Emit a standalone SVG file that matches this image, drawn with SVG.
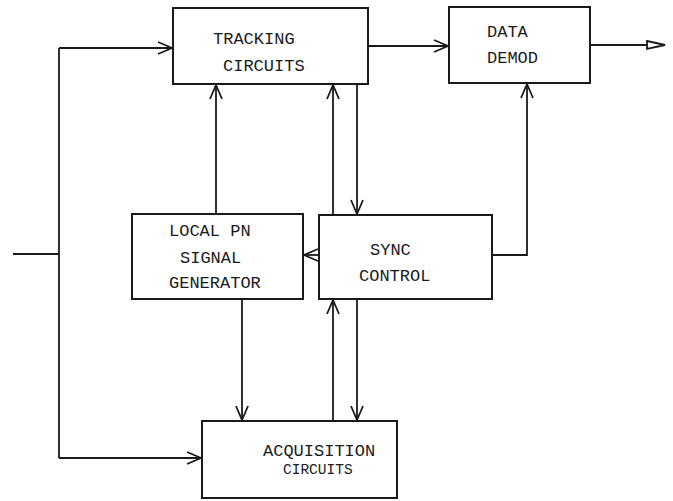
<svg xmlns="http://www.w3.org/2000/svg" width="673" height="501" viewBox="0 0 673 501">
  <style>
    .box { fill: none; stroke: #1a1a1a; stroke-width: 2; }
    .wire { fill: none; stroke: #1a1a1a; stroke-width: 1.8; }
    .lbl { font-family: "Liberation Mono", "Courier New", monospace; font-size: 17px; fill: #1a1a1a; }
    .sm { font-size: 14.5px; }
  </style>
  <defs>
    <marker id="vee" markerWidth="18" markerHeight="16" refX="15" refY="7" orient="auto" markerUnits="userSpaceOnUse">
      <path d="M1,1 L15,7 L1,13" fill="none" stroke="#1a1a1a" stroke-width="1.8"/>
    </marker>
    <marker id="tri" markerWidth="22" markerHeight="14" refX="19" refY="6" orient="auto" markerUnits="userSpaceOnUse">
      <path d="M1,2 L19,6 L1,10 Z" fill="#fff" stroke="#1a1a1a" stroke-width="1.8"/>
    </marker>
  </defs>

  <g id="tracking">
    <rect class="box" x="173" y="8" width="195" height="76" stroke-width="2.4"/>
    <text class="lbl" x="213" y="44">TRACKING</text>
    <text class="lbl" x="223" y="71">CIRCUITS</text>
  </g>

  <g id="demod">
    <rect class="box" x="449" y="7" width="141" height="76" stroke-width="2.4"/>
    <text class="lbl" x="487" y="37">DATA</text>
    <text class="lbl" x="487" y="63">DEMOD</text>
  </g>

  <g id="local-pn">
    <rect class="box" x="132" y="214" width="171" height="85" stroke-width="1.6"/>
    <text class="lbl" x="169" y="236">LOCAL PN</text>
    <text class="lbl" x="180" y="263">SIGNAL</text>
    <text class="lbl" x="169" y="288">GENERATOR</text>
  </g>

  <g id="sync">
    <rect class="box" x="319" y="215" width="173" height="84" stroke-width="1.8"/>
    <text class="lbl" x="370" y="255">SYNC</text>
    <text class="lbl" x="359" y="281">CONTROL</text>
  </g>

  <g id="acquisition">
    <rect class="box" x="202" y="421" width="195" height="77" stroke-width="1.8"/>
    <text class="lbl" x="263" y="456">ACQUISITION</text>
    <text class="lbl sm" x="283" y="474">CIRCUITS</text>
  </g>

  <g id="connectors">
    <!-- input and its split to tracking / acquisition -->
    <path class="wire" d="M13,254 H59"/>
    <path class="wire" d="M59,48 V458" stroke-width="2.2"/>
    <path class="wire" d="M59,48 H172" marker-end="url(#vee)"/>
    <path class="wire" d="M59,458 H201" marker-end="url(#vee)"/>
    <!-- tracking to demod and demod output -->
    <path class="wire" d="M368,46 H448" marker-end="url(#vee)"/>
    <path class="wire" d="M590,45 H665" marker-end="url(#tri)"/>
    <!-- local PN generator links -->
    <path class="wire" d="M216,214 V85" marker-end="url(#vee)"/>
    <path class="wire" d="M242,299 V420" marker-end="url(#vee)"/>
    <!-- sync control links -->
    <path class="wire" d="M319,255 H304" marker-end="url(#vee)"/>
    <path class="wire" d="M333,215 V85" marker-end="url(#vee)"/>
    <path class="wire" d="M357,84 V214" marker-end="url(#vee)"/>
    <path class="wire" d="M492,255 H527 V84" marker-end="url(#vee)"/>
    <path class="wire" d="M333,421 V300" marker-end="url(#vee)"/>
    <path class="wire" d="M357,299 V420" marker-end="url(#vee)"/>
  </g>
</svg>
